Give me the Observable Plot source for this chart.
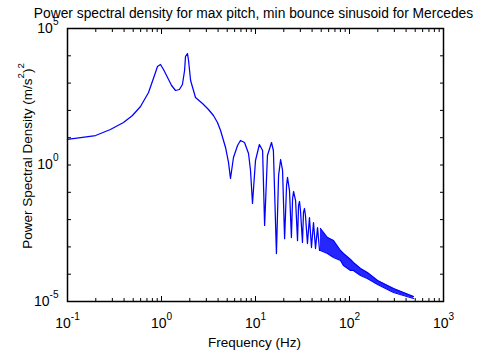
<!DOCTYPE html>
<html><head><meta charset="utf-8">
<script src="https://cdn.jsdelivr.net/npm/d3@7"></script>
<script src="https://cdn.jsdelivr.net/npm/@observablehq/plot@0.6"></script>
<style>body{margin:0;background:#fff}</style>
</head><body>
<div id="chart"></div>
<script>
// Main curve (Hz, (m/s^2)^2/Hz)
const freq = [0.1, 0.199, 0.286, 0.394, 0.491, 0.598, 0.728, 0.863, 0.906, 0.975, 1.05, 1.16, 1.28, 1.41, 1.55, 1.67, 1.76, 1.80, 1.89, 1.94, 2.04, 2.30, 2.73, 3.16, 3.57, 3.94, 4.25, 4.80, 5.16, 5.42, 5.83, 6.44, 6.92, 7.64, 8.43, 8.85, 9.29, 10.0, 11.0, 11.9, 12.5, 13.4, 14.8, 15.5, 16.7, 17.6, 18.5, 19.4, 20.4, 21.4, 21.9, 23.0, 24.1, 24.8, 25.4, 26.7, 28.0, 28.7, 29.4, 30.1, 31.6, 32.4, 33.2, 34.0, 35.7, 37.5, 39.4, 41.4, 43.5, 45.7, 48.0];
const psd = [8.6, 12.0, 20, 36, 65, 139, 453, 2440, 4060, 4800, 3150, 1600, 817, 536, 583, 889, 2900, 9420, 12100, 6730, 1245, 297, 179, 108, 65, 36, 18.4, 4.38, 1.24, 0.32, 1.88, 5.18, 7.89, 6.67, 2.64, 0.63, 0.039, 1.46, 5.64, 3.40, 0.0061, 2.23, 6.67, 3.40, 0.00057, 0.41, 1.59, 0.63, 0.0020, 0.177, 0.35, 0.116, 0.0022, 0.059, 0.107, 0.050, 0.0017, 0.033, 0.046, 0.0215, 0.00145, 0.0182, 0.0255, 0.0141, 0.00133, 0.0119, 0.00095, 0.0078, 0.00087, 0.0051, 0.00074];
// High-frequency dense oscillation envelope
const bandFreq = [49.1, 58.3, 67.6, 80.2, 86.3, 102.5, 110, 131, 155, 199, 294, 375, 480];
const bandHi = [0.00472, 0.00221, 0.00171, 0.00074, 0.000573, 0.000345, 0.000268, 0.000162, 0.000115, 0.0000588, 0.0000299, 0.0000214, 0.0000152];
const bandLo = [0.00074, 0.000573, 0.000409, 0.000318, 0.000208, 0.000137, 0.000137, 0.0000895, 0.0000695, 0.000042, 0.0000214, 0.0000166, 0.0000129];
// Ticks
const xMajor = [0.1, 1, 10, 100, 1000];
const xExp = ["-1", "0", "1", "2", "3"];
const xMinor = [0.2,0.3,0.4,0.5,0.6,0.7,0.8,0.9,2,3,4,5,6,7,8,9,20,30,40,50,60,70,80,90,200,300,400,500,600,700,800,900];
const yMajor = [1e-5,1e-4,1e-3,1e-2,1e-1,1,10,100,1e3,1e4,1e5];
const yLabelVals = [1e-5, 1, 1e5];
const yExp = ["-5", "0", "5"];
const title = "Power spectral density for max pitch, min bounce sinusoid for Mercedes";
const xLabel = "Frequency (Hz)";
const yLabel = "Power Spectral Density (m/s^2)^2";

const rows = freq.map((f, i) => ({f, v: psd[i]}));
const band = bandFreq.map((f, i) => ({f, hi: bandHi[i], lo: bandLo[i]}));
const font = "Liberation Sans, Arial, Helvetica, sans-serif";
const blue = "#0000ff";

const plot = Plot.plot({
  width: 479, height: 356,
  marginLeft: 67, marginRight: 36, marginTop: 28, marginBottom: 55,
  style: {fontFamily: font, background: "#fff", color: "#000"},
  x: {type: "log", domain: [0.1, 1000]},
  y: {type: "log", domain: [1e-5, 1e5]},
  marks: [
    Plot.areaY(band, {x: "f", y1: "lo", y2: "hi", fill: blue, fillOpacity: 0.85}),
    Plot.line(band, {x: "f", y: "hi", stroke: blue, strokeWidth: 1.2}),
    Plot.line(band, {x: "f", y: "lo", stroke: blue, strokeWidth: 1.2}),
    Plot.line(rows, {x: "f", y: "v", stroke: blue, strokeWidth: 1.25, strokeLinejoin: "round"}),
    Plot.axisX({anchor: "bottom", ticks: xMajor, tickSize: -5, tickFormat: () => "", label: null}),
    Plot.axisX({anchor: "top", ticks: xMajor, tickSize: -5, tickFormat: () => "", label: null}),
    Plot.axisX({anchor: "bottom", ticks: xMinor, tickSize: -3, tickFormat: () => "", label: null}),
    Plot.axisX({anchor: "top", ticks: xMinor, tickSize: -3, tickFormat: () => "", label: null}),
    Plot.axisY({anchor: "left", ticks: yMajor, tickSize: -4, tickFormat: () => "", label: null}),
    Plot.axisY({anchor: "right", ticks: yMajor, tickSize: -4, tickFormat: () => "", label: null}),
    Plot.frame({stroke: "#000", strokeWidth: 1.5}),
    Plot.text(xMajor, {x: d => d, text: (d, i) => "10^" + xExp[i], frameAnchor: "bottom", dy: 22, fontSize: 14, lineAnchor: "middle", fill: "#000"}),
    Plot.text(yLabelVals, {y: d => d, text: (d, i) => "10^" + yExp[i], frameAnchor: "left", dx: -9, textAnchor: "end", fontSize: 14, lineAnchor: "middle", fill: "#000"}),
    Plot.text([title], {text: d => d, frameAnchor: "top", dy: -15, dx: -2, fontSize: 13.8, textAnchor: "middle", lineAnchor: "middle", fill: "#000"}),
    Plot.text([xLabel], {text: d => d, frameAnchor: "bottom", dy: 41, dx: -1, fontSize: 13.5, textAnchor: "middle", lineAnchor: "middle", fill: "#000"}),
    Plot.text([yLabel], {text: d => d, frameAnchor: "left", dx: -40, dy: -9, rotate: -90, fontSize: 13.5, textAnchor: "middle", lineAnchor: "middle", fill: "#000"})
  ]
});

// Render "^" exponents as raised superscripts
d3.select(plot).selectAll("text").each(function() {
  const t = this.textContent;
  if (!t.includes("^")) return;
  const parts = t.split("^");
  const sel = d3.select(this);
  sel.text(null);
  sel.append("tspan").text(parts[0]);
  for (let k = 1; k < parts.length; k++) {
    const m = parts[k].match(/^(-?\d+)(.*)$/);
    const sup = m ? m[1] : parts[k];
    const rest = m ? m[2] : "";
    sel.append("tspan").attr("dy", -8).attr("font-size", "0.72em").text(sup);
    if (rest) sel.append("tspan").attr("dy", 8).text(rest);
  }
});

document.getElementById("chart").appendChild(plot);
</script>
</body></html>
